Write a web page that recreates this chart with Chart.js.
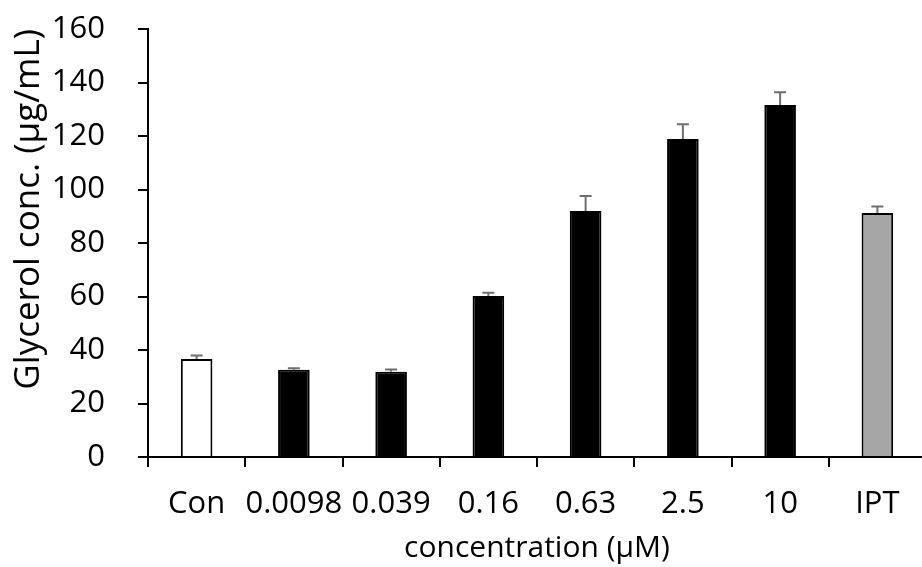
<!DOCTYPE html>
<html>
<head>
<meta charset="utf-8">
<script src="https://cdn.jsdelivr.net/npm/chart.js@4"></script>
<style>
  html, body { margin: 0; padding: 0; background: #fff; overflow: hidden; }
  #wrap { position: relative; width: 926px; height: 567px; }
</style>
</head>
<body>
<div id="wrap"><canvas id="chart"></canvas></div>
<script>
// Glycerol release per treatment, mean and SD
const categories = ['Con', '0.0098', '0.039', '0.16', '0.63', '2.5', '10', 'IPT'];
const glycerol = [36.6, 32.6, 31.9, 60.2, 92.0, 118.9, 131.6, 91.2];
const glycerolSd = [1.3, 0.6, 0.8, 1.2, 5.6, 5.5, 4.8, 2.4];
const yTicks = [0, 20, 40, 60, 80, 100, 120, 140, 160];

const barColors = ['#ffffff', '#000000', '#000000', '#000000', '#000000', '#000000', '#000000', '#a6a6a6'];
const FONT = '"Open Sans", "Noto Sans", sans-serif';
const FONT_SIZE = 31;

// one-sided (upward) error bars
const errorBars = {
    id: 'errorBars',
    afterDatasetsDraw(chart) {
        const ctx = chart.ctx;
        const y = chart.scales.y;
        const meta = chart.getDatasetMeta(0);
        ctx.save();
        ctx.strokeStyle = '#6e6e6e';
        ctx.lineWidth = 2;
        meta.data.forEach((bar, i) => {
            const top = y.getPixelForValue(glycerol[i]);
            const end = y.getPixelForValue(glycerol[i] + glycerolSd[i]);
            ctx.beginPath();
            ctx.moveTo(bar.x, top);
            ctx.lineTo(bar.x, end);
            ctx.moveTo(bar.x - 6, end);
            ctx.lineTo(bar.x + 6, end);
            ctx.stroke();
        });
        ctx.restore();
    }
};

new Chart(document.getElementById('chart'), {
    type: 'bar',
    data: {
        labels: categories,
        datasets: [{
            data: glycerol,
            backgroundColor: barColors,
            borderColor: '#000000',
            borderWidth: 2,
            categoryPercentage: 1,
            barPercentage: 0.325
        }]
    },
    options: {
        responsive: true,
        maintainAspectRatio: false,
        animation: false,
        layout: { padding: { top: 29, right: 0, bottom: 0, left: 0 } },
        plugins: { legend: { display: false }, tooltip: { enabled: false } },
        scales: {
            x: {
                afterFit: (s) => { s.height = 110; s.paddingLeft = 0; s.paddingRight = 0; },
                grid: { offset: true, drawOnChartArea: false, tickLength: 10, color: '#000', lineWidth: 2 },
                border: { color: '#000', width: 2 },
                ticks: { color: '#000', padding: 19, maxRotation: 0, autoSkip: false, font: { family: FONT, size: FONT_SIZE } },
                title: {
                    display: true,
                    text: 'concentration (μM)',
                    color: '#000',
                    padding: { top: 0, bottom: 1 },
                    font: { family: FONT, size: 30 }
                }
            },
            y: {
                min: 0,
                max: 160,
                afterFit: (s) => { s.width = 148; s.paddingTop = 0; s.paddingBottom = 0; },
                afterBuildTicks: (s) => { s.ticks = yTicks.map(v => ({ value: v })); },
                grid: { drawOnChartArea: false, tickLength: 10, color: '#000', lineWidth: 2 },
                border: { color: '#000', width: 2 },
                ticks: { color: '#000', padding: 33, font: { family: FONT, size: FONT_SIZE } },
                title: {
                    display: true,
                    text: 'Glycerol conc. (μg/mL)',
                    color: '#000',
                    align: 'end',
                    padding: { top: 8, bottom: 0 },
                    font: { family: FONT, size: 35 }
                }
            }
        }
    },
    plugins: [errorBars]
});
</script>
</body>
</html>
